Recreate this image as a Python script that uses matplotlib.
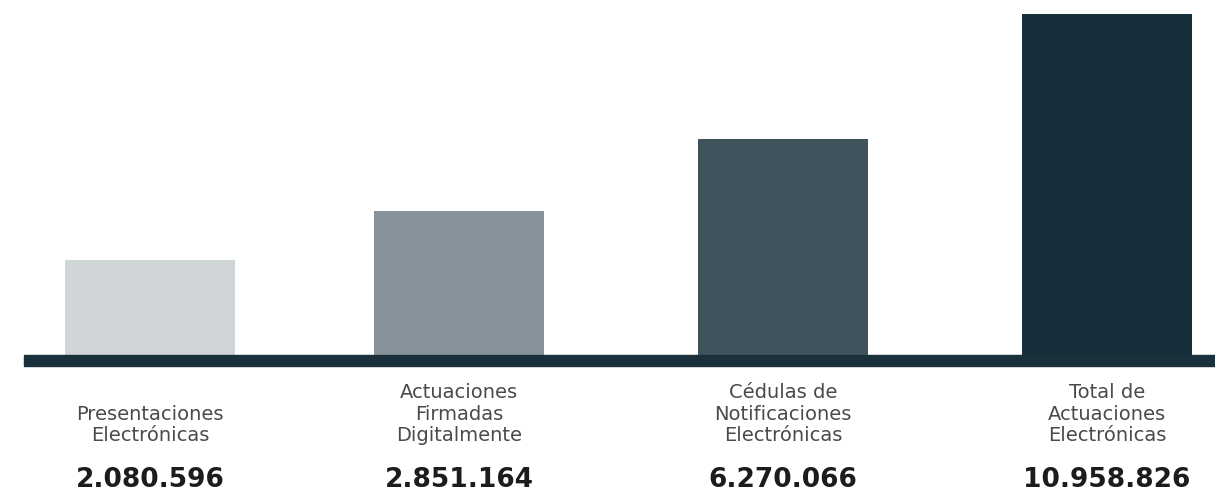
import matplotlib.pyplot as plt

labels = ["Presentaciones\nElectrónicas",
          "Actuaciones\nFirmadas\nDigitalmente",
          "Cédulas de\nNotificaciones\nElectrónicas",
          "Total de\nActuaciones\nElectrónicas"]
values = ["2.080.596", "2.851.164", "6.270.066", "10.958.826"]
# bar lengths as drawn in the infographic (not proportional to the values)
bar_heights = [95, 144, 216, 341]
colors = ["#d0d5d8", "#87939a", "#40535c", "#172e3b"]

fig = plt.figure(figsize=(12.15, 4.91), dpi=100)
ax = fig.add_axes([0, 0, 1, 1])
ax.set_xlim(-0.47, 3.339)
ax.set_ylim(-136, 355)
ax.axis('off')

x = [0, 0.97, 1.985, 3]
ax.bar(x, bar_heights, width=0.533, color=colors, zorder=2)
ax.axhspan(-11, 0, xmin=24/1215, xmax=1, color="#1a303b", zorder=3)

for i in range(len(labels)):
    ax.text(x[i], -90, labels[i], ha='center', va='bottom', fontsize=14,
            color="#4a4a4a", linespacing=1.15, family="DejaVu Sans")
    ax.text(x[i], -125, values[i], ha='center', va='center', fontsize=19,
            fontweight='bold', color="#1c1c1c", family="DejaVu Sans")

plt.savefig("out.png", dpi=100)
plt.close()
